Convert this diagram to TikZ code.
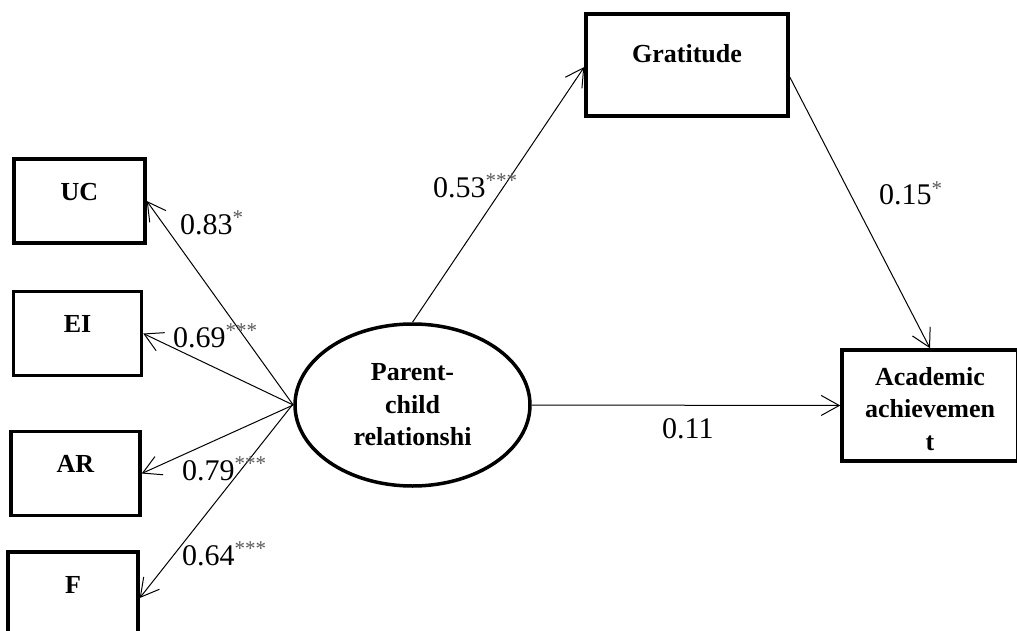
\documentclass[tikz,border=0pt]{standalone}
\usepackage{fontspec}
\setmainfont{Liberation Serif}
\usetikzlibrary{arrows.meta,shapes.geometric}
\definecolor{stargray}{HTML}{5A5A5A}
\tikzset{
  varbox/.style={draw, line width=3.5pt, inner sep=0pt},
  lat/.style={draw, ellipse, line width=3.5pt, inner sep=0pt, minimum width=235pt, minimum height=162pt,
    align=center, font=\fontsize{26}{32.5}\selectfont\bfseries},
  boxtext/.style={anchor=base, inner sep=0pt, font=\fontsize{26}{32.5}\selectfont\bfseries, align=center},
  coef/.style={anchor=base west, inner sep=0pt, font=\fontsize{30}{36}\selectfont},
  path/.style={line width=1pt, -{Straight Barb[length=18pt,width=20pt,line width=1pt]}},
}
\newcommand{\st}[1]{\textsuperscript{\color{stargray}#1}}
\begin{document}
\begin{tikzpicture}[x=1pt,y=-1pt]
\useasboundingbox (0,0) rectangle (1017,631);
\fill[white] (0,0) rectangle (1017,631);
\clip (0,0) rectangle (1017,631);
% boxes
\node[varbox, minimum width=131pt, minimum height=84pt] (uc) at (79.5,201) {};
\node[varbox, minimum width=128pt, minimum height=84pt] (ei) at (77.5,333.5) {};
\node[varbox, minimum width=129pt, minimum height=84pt] (ar) at (75.5,473.5) {};
\node[varbox, minimum width=130pt, minimum height=84pt] (f) at (73,594) {};
\node[varbox, minimum width=202pt, minimum height=102pt] (grat) at (687,65) {};
\node[varbox, minimum width=176pt, minimum height=111pt] (acad) at (930,405.5) {};
\node[lat] (pcr) at (412.5,405) {Parent-\\child\\relationshi};
% box texts
\node[boxtext] (uct) at (79.5,200.5) {UC};
\node[boxtext] (eit) at (77.5,332) {EI};
\node[boxtext] (art) at (75.5,472) {AR};
\node[boxtext] (ft) at (73,593) {F};
\node[boxtext] (gratt) at (687,63) {Gratitude};
\node[boxtext] (acadt) at (930,450) {Academic\\achievemen\\t};
% paths
\draw[path] (pcr.west) -- (uc.east);
\draw[path] (pcr.west) -- (ei.east);
\draw[path] (pcr.west) -- (ar.east);
\draw[path] ([xshift=-1pt]pcr.west) -- ([yshift=-4pt]f.east);
\draw[path] (pcr.north) -- ([yshift=-2pt]grat.west);
\draw[path] ([yshift=-12pt]grat.east) -- (acad.north);
\draw[path] (pcr.east) -- (acad.west);
% coefficients
\node[coef] (c1) at (180,234) {0.83\st{*}};
\node[coef] (c2) at (173,347) {0.69\st{***}};
\node[coef] (c3) at (182,480) {0.79\st{***}};
\node[coef] (c4) at (182,565) {0.64\st{***}};
\node[coef] (c5) at (433,197) {0.53\st{***}};
\node[coef] (c6) at (879,205) {0.15\st{*}};
\node[coef] (c7) at (662,438) {0.11};
\end{tikzpicture}
\end{document}
